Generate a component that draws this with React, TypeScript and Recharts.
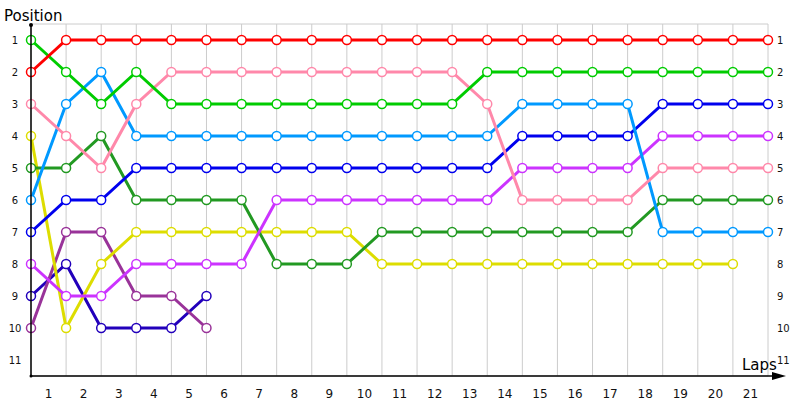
import { LineChart, Line, XAxis, YAxis, CartesianGrid } from 'recharts';

const laps = [0, 1, 2, 3, 4, 5, 6, 7, 8, 9, 10, 11, 12, 13, 14, 15, 16, 17, 18, 19, 20, 21];
const lapTicks = [1, 2, 3, 4, 5, 6, 7, 8, 9, 10, 11, 12, 13, 14, 15, 16, 17, 18, 19, 20, 21];
const positionTicks = [1, 2, 3, 4, 5, 6, 7, 8, 9, 10, 11];

const navy = [9, 8, 10, 10, 10, 9];
const plum = [10, 7, 7, 9, 9, 10];
const yellow = [4, 10, 8, 7, 7, 7, 7, 7, 7, 7, 8, 8, 8, 8, 8, 8, 8, 8, 8, 8, 8];
const darkGreen = [5, 5, 4, 6, 6, 6, 6, 8, 8, 8, 7, 7, 7, 7, 7, 7, 7, 7, 6, 6, 6, 6];
const violet = [8, 9, 9, 8, 8, 8, 8, 6, 6, 6, 6, 6, 6, 6, 5, 5, 5, 5, 4, 4, 4, 4];
const blue = [7, 6, 6, 5, 5, 5, 5, 5, 5, 5, 5, 5, 5, 5, 4, 4, 4, 4, 3, 3, 3, 3];
const skyBlue = [6, 3, 2, 4, 4, 4, 4, 4, 4, 4, 4, 4, 4, 4, 3, 3, 3, 3, 7, 7, 7, 7];
const pink = [3, 4, 5, 3, 2, 2, 2, 2, 2, 2, 2, 2, 2, 3, 6, 6, 6, 6, 5, 5, 5, 5];
const green = [1, 2, 3, 2, 3, 3, 3, 3, 3, 3, 3, 3, 3, 2, 2, 2, 2, 2, 2, 2, 2, 2];
const red = [2, 1, 1, 1, 1, 1, 1, 1, 1, 1, 1, 1, 1, 1, 1, 1, 1, 1, 1, 1, 1, 1];

const series = [
  { key: 'navy', values: navy, color: '#2200bb' },
  { key: 'plum', values: plum, color: '#993399' },
  { key: 'yellow', values: yellow, color: '#dddd00' },
  { key: 'darkGreen', values: darkGreen, color: '#229922' },
  { key: 'violet', values: violet, color: '#cc33ff' },
  { key: 'blue', values: blue, color: '#0000ee' },
  { key: 'skyBlue', values: skyBlue, color: '#0099ff' },
  { key: 'pink', values: pink, color: '#ff88aa' },
  { key: 'green', values: green, color: '#00cc00' },
  { key: 'red', values: red, color: '#ff0000' },
];

const data = laps.map((lap, i) => {
  const row: Record<string, number | undefined> = { lap };
  series.forEach((s) => {
    row[s.key] = s.values[i];
  });
  return row;
});

const tickFont = 'Tahoma, "DejaVu Sans", sans-serif';

// lap labels sit in the middle of each lap interval
function LapTick({ x, y, payload }: any) {
  return (
    <text x={x - 17.5} y={y + 14} textAnchor="middle" fontSize={12} fontFamily={tickFont} fill="#111">
      {payload.value}
    </text>
  );
}

function LeftTick({ y, payload }: any) {
  return (
    <text x={15} y={y + 4} textAnchor="middle" fontSize={10} fontFamily={tickFont} fill="#111">
      {payload.value}
    </text>
  );
}

function RightTick({ x, y, payload }: any) {
  return (
    <text x={x + 1} y={y + 4} textAnchor="start" fontSize={10} fontFamily={tickFont} fill="#111">
      {payload.value}
    </text>
  );
}

export default function App() {
  return (
    <div style={{ position: 'absolute', left: 0, top: 0, width: 800, height: 400, background: '#fff' }}>
      <LineChart width={800} height={400} data={data} margin={{ top: 24, right: 0, bottom: 0, left: 0 }}>
        <CartesianGrid stroke="#cccccc" strokeWidth={1} />
        <XAxis
          dataKey="lap"
          type="number"
          domain={[0, 21]}
          ticks={lapTicks}
          axisLine={false}
          tickLine={false}
          tick={<LapTick />}
          height={24}
          interval={0}
        />
        <YAxis
          yAxisId="left"
          type="number"
          domain={[0.5, 11.5]}
          reversed
          ticks={positionTicks}
          axisLine={false}
          tickLine={false}
          tick={<LeftTick />}
          width={31}
          interval={0}
        />
        <YAxis
          yAxisId="right"
          orientation="right"
          type="number"
          domain={[0.5, 11.5]}
          reversed
          ticks={positionTicks}
          axisLine={false}
          tickLine={false}
          tick={<RightTick />}
          width={32}
          interval={0}
        />
        {series.map((s) => (
          <Line
            key={s.key}
            yAxisId="left"
            dataKey={s.key}
            type="linear"
            stroke={s.color}
            strokeWidth={3}
            dot={{ r: 4.5, fill: '#fff', stroke: s.color, strokeWidth: 1.5 }}
            activeDot={false}
            connectNulls={false}
            isAnimationActive={false}
          />
        ))}
        <Line
          yAxisId="right"
          dataKey="red"
          stroke="none"
          dot={false}
          activeDot={false}
          legendType="none"
          isAnimationActive={false}
        />
      </LineChart>
      <svg
        width={800}
        height={400}
        style={{ position: 'absolute', left: 0, top: 0, pointerEvents: 'none' }}
      >
        <line x1={31} y1={25} x2={31} y2={376} stroke="#000" strokeWidth={1.5} />
        <circle cx={31} cy={25} r={2} fill="#000" />
        <line x1={31} y1={376} x2={780} y2={376} stroke="#000" strokeWidth={1.5} />
        <path d="M772,372 L786,376 L772,380 Z" fill="#000" />
        <circle cx={31} cy={376} r={1.5} fill="#000" />
        <text x={4} y={21} fontSize={15} fontFamily={tickFont} fill="#000">
          Position
        </text>
        <text x={742} y={370} fontSize={15} fontFamily={tickFont} fill="#000">
          Laps
        </text>
      </svg>
    </div>
  );
}
